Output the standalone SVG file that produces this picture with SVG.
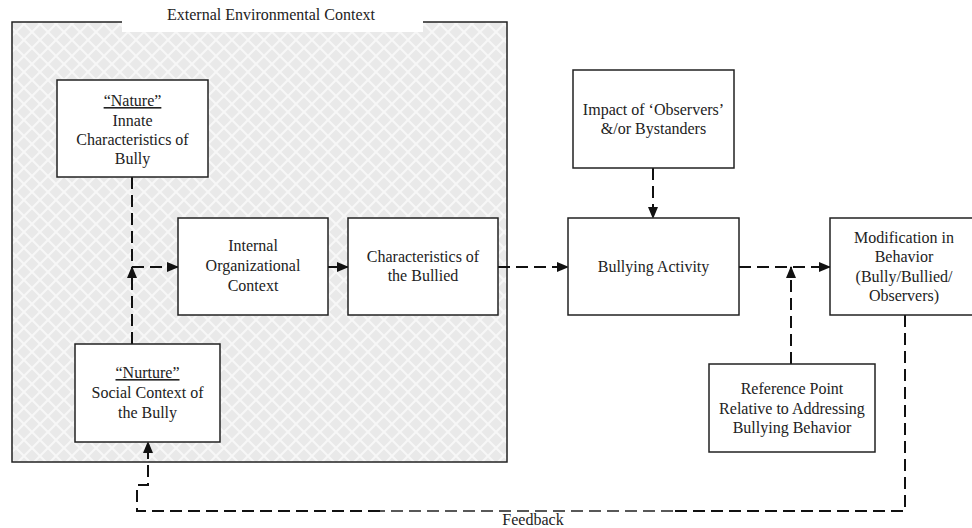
<svg xmlns="http://www.w3.org/2000/svg" width="972" height="528" viewBox="0 0 972 528">
<style>
text{font-family:'Liberation Serif','Times New Roman',Tinos,'DejaVu Serif',serif;font-size:16px;fill:#222;text-anchor:middle}
.box{fill:#fff;stroke:#222;stroke-width:1.5}
.dash{fill:none;stroke:#111;stroke-width:2;stroke-dasharray:12 6}
.thin{fill:none;stroke:#222;stroke-width:1.3;stroke-dasharray:12 6}
.solid{fill:none;stroke:#111;stroke-width:2}
</style>
<defs>
<pattern id="hatch" width="16" height="16" patternUnits="userSpaceOnUse">
<rect width="16" height="16" fill="#e9e9e9"/>
<path d="M0,0 L16,16 M16,0 L0,16" stroke="#f7f7f7" stroke-width="2.2"/>
</pattern>
<marker id="arr" markerWidth="12" markerHeight="10" refX="11" refY="5" orient="auto" markerUnits="userSpaceOnUse">
<path d="M0,0 L12,5 L0,10 Z" fill="#111"/>
</marker>
</defs>
<rect width="972" height="528" fill="#fff"/>
<g font-family="Liberation Serif, Times New Roman, serif">
<g id="context">
<rect x="12" y="22" width="495" height="440" fill="url(#hatch)" stroke="#222" stroke-width="1.5"/>
<rect x="122" y="0" width="301" height="32" fill="#fff"/>
<text x="271" y="20">External Environmental Context</text>
</g>
<g id="connectors">
<path class="dash" d="M132,177 V267 H178" marker-end="url(#arr)"/>
<path class="dash" d="M132,344 V267" marker-end="url(#arr)"/>
<path class="solid" d="M328,267 H348" marker-end="url(#arr)"/>
<path class="dash" d="M498,267 H568" marker-end="url(#arr)"/>
<path class="dash" d="M653,168 V218" marker-end="url(#arr)"/>
<path class="dash" d="M739,267 H830" marker-end="url(#arr)"/>
<path class="dash" d="M791,364 V267" marker-end="url(#arr)"/>
<path class="dash" d="M905,315 V511 H673"/>
<path class="thin" d="M673,511 H380"/>
<path class="dash" d="M380,511 H137 V485 H148 V442" marker-end="url(#arr)"/>
<text x="533" y="525">Feedback</text>
</g>
<g id="nature">
<rect class="box" x="57" y="80" width="151" height="97"/>
<text x="132.5" y="106" text-decoration="underline">“Nature”</text>
<text x="132.5" y="126">Innate</text>
<text x="132.5" y="145">Characteristics of</text>
<text x="132.5" y="164">Bully</text>
</g>
<g id="nurture">
<rect class="box" x="75" y="344" width="145" height="98"/>
<text x="147.5" y="378" text-decoration="underline">“Nurture”</text>
<text x="147.5" y="398">Social Context of</text>
<text x="147.5" y="418">the Bully</text>
</g>
<g id="internal">
<rect class="box" x="178" y="218" width="150" height="97"/>
<text x="253" y="251">Internal</text>
<text x="253" y="271">Organizational</text>
<text x="253" y="291">Context</text>
</g>
<g id="bullied">
<rect class="box" x="348" y="218" width="150" height="97"/>
<text x="423" y="262">Characteristics of</text>
<text x="423" y="281">the Bullied</text>
</g>
<g id="impact">
<rect class="box" x="573" y="70" width="161" height="98"/>
<text x="653.5" y="115">Impact of ‘Observers’</text>
<text x="653.5" y="134">&amp;/or Bystanders</text>
</g>
<g id="activity">
<rect class="box" x="568" y="218" width="171" height="97"/>
<text x="653.5" y="272">Bullying Activity</text>
</g>
<g id="modification">
<rect class="box" x="830" y="218" width="150" height="97"/>
<text x="904" y="243">Modification in</text>
<text x="904" y="262">Behavior</text>
<text x="904" y="282">(Bully/Bullied/</text>
<text x="904" y="301">Observers)</text>
</g>
<g id="reference">
<rect class="box" x="709" y="364" width="166" height="88"/>
<text x="792" y="394">Reference Point</text>
<text x="792" y="414">Relative to Addressing</text>
<text x="792" y="433">Bullying Behavior</text>
</g>
</g>
</svg>
